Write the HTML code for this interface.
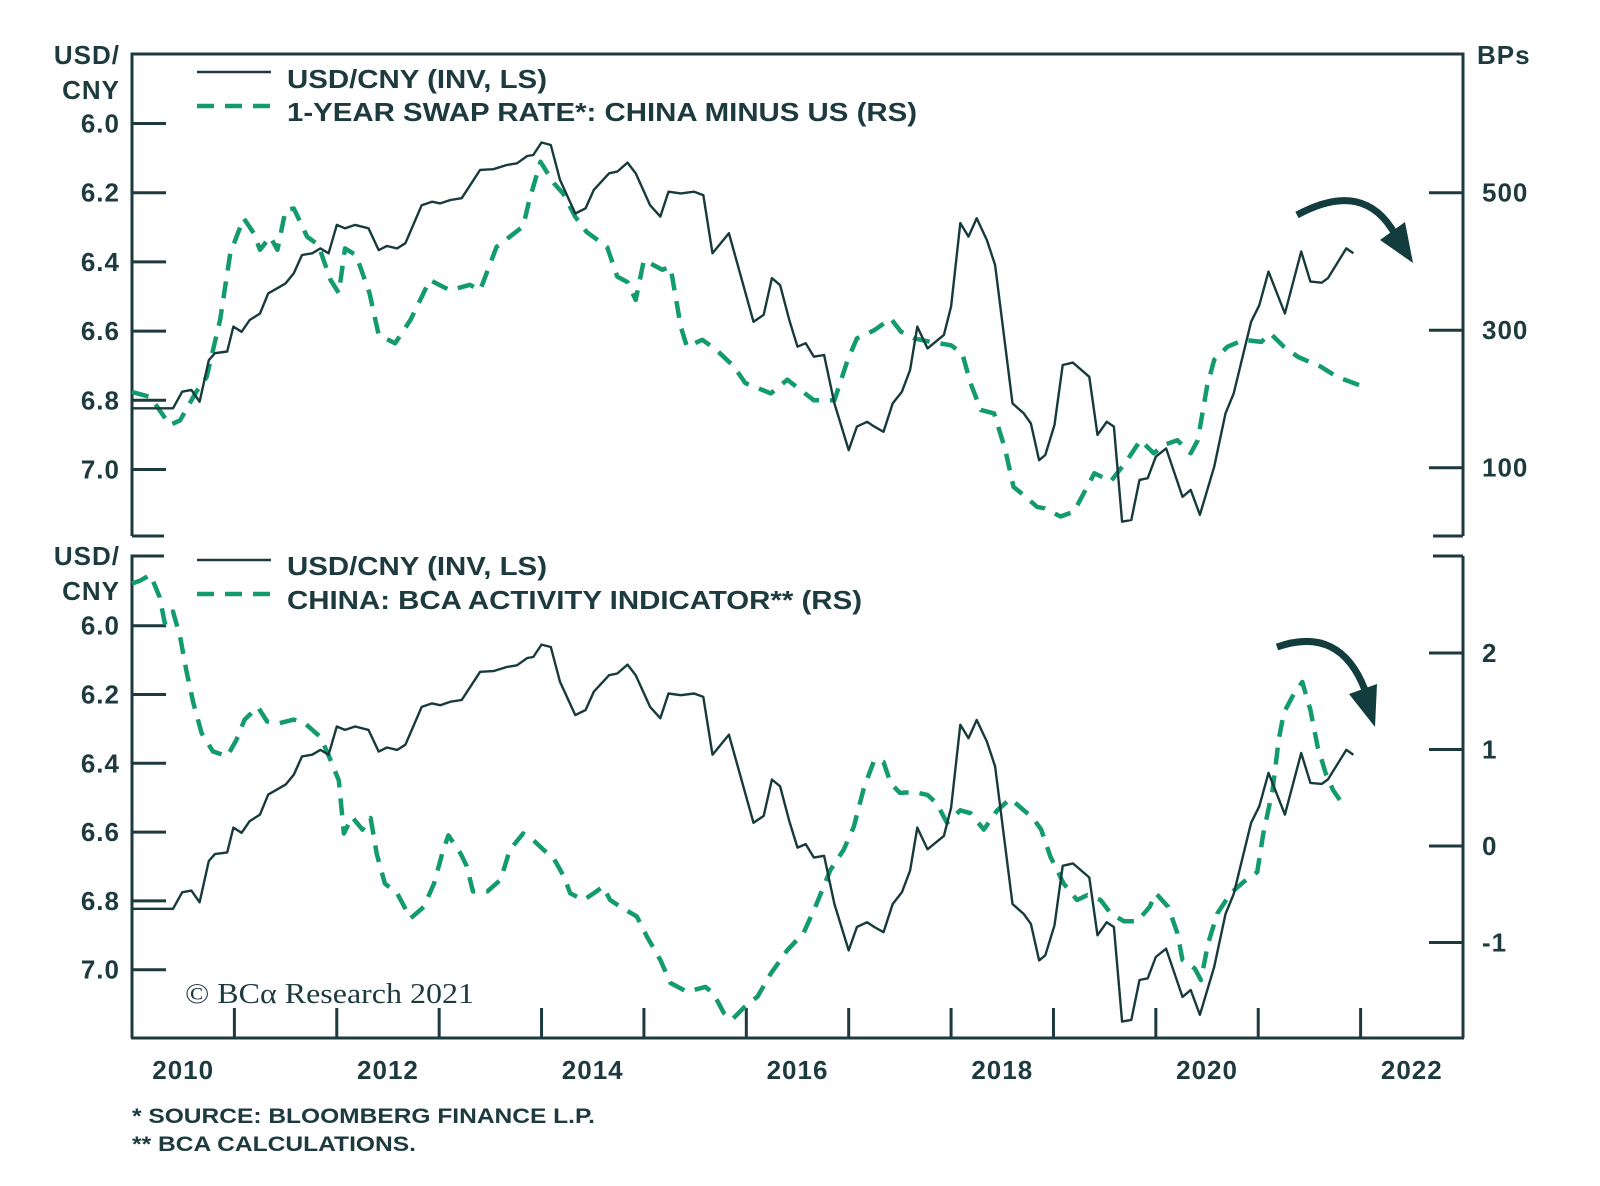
<!DOCTYPE html>
<html><head><meta charset="utf-8"><style>
html,body{margin:0;padding:0;background:#fff;}
svg{display:block;font-family:"Liberation Sans",Arial,sans-serif;}
.t{fill:#1d3a3e;font-weight:bold;font-size:26px;letter-spacing:1px;}
.lg{fill:#1d3a3e;font-weight:bold;font-size:26px;}
.fn{fill:#1d3a3e;font-weight:bold;font-size:21px;}
</style></head><body>
<svg id="chart" width="1600" height="1186" viewBox="0 0 1600 1186" xmlns="http://www.w3.org/2000/svg">
<g id="frame" stroke="#1d3a3e" stroke-width="3" fill="none"></g>
<g id="marks"></g>
<g id="texts"></g>
<g>
<line x1="197" y1="72" x2="271" y2="72" stroke="#1d3a3e" stroke-width="2.5"/>
<text class="lg" x="287" y="88" textLength="260" lengthAdjust="spacingAndGlyphs">USD/CNY (INV, LS)</text>
<line x1="197" y1="106" x2="271" y2="106" stroke="#139b6f" stroke-width="4.5" stroke-dasharray="17,11"/>
<text class="lg" x="287" y="121" textLength="630" lengthAdjust="spacingAndGlyphs">1-YEAR SWAP RATE*: CHINA MINUS US (RS)</text>
</g>
<g>
<line x1="197" y1="560" x2="271" y2="560" stroke="#1d3a3e" stroke-width="2.5"/>
<text class="lg" x="287" y="575" textLength="260" lengthAdjust="spacingAndGlyphs">USD/CNY (INV, LS)</text>
<line x1="197" y1="594" x2="271" y2="594" stroke="#139b6f" stroke-width="4.5" stroke-dasharray="17,11"/>
<text class="lg" x="287" y="609" textLength="575" lengthAdjust="spacingAndGlyphs">CHINA: BCA ACTIVITY INDICATOR** (RS)</text>
</g>
<text class="t" x="120" y="64" text-anchor="end">USD/</text>
<text class="t" x="120" y="99" text-anchor="end">CNY</text>
<text class="t" x="1477" y="64">BPs</text>
<text class="t" x="120" y="565" text-anchor="end">USD/</text>
<text class="t" x="120" y="600" text-anchor="end">CNY</text>
<text x="185" y="1003" textLength="289" lengthAdjust="spacingAndGlyphs" style="font-family:'Liberation Serif',serif;font-size:28px;fill:#1d3a3e">© BCα Research 2021</text>
<text class="fn" x="132" y="1123" textLength="463" lengthAdjust="spacingAndGlyphs">* SOURCE: BLOOMBERG FINANCE L.P.</text>
<text class="fn" x="132" y="1151" textLength="284" lengthAdjust="spacingAndGlyphs">** BCA CALCULATIONS.</text>
<g>
<path d="M1297,215 Q1365,178 1396,236" stroke="#123c3e" stroke-width="7" fill="none"/>
<polygon points="1380,240 1413,263 1405,222" fill="#123c3e"/>
</g>
<g>
<path d="M1277,647 Q1340,625 1365,690" stroke="#123c3e" stroke-width="7" fill="none"/>
<polygon points="1349,694 1375,727 1377,684" fill="#123c3e"/>
</g>
</svg>
<script>
const usdYears=[2010.0,2010.40,2010.49,2010.58,2010.66,2010.75,2010.81,2010.93,2010.99,2011.07,2011.15,2011.25,2011.33,2011.50,2011.58,2011.66,2011.76,2011.84,2011.92,2012.00,2012.08,2012.18,2012.31,2012.41,2012.49,2012.59,2012.67,2012.83,2012.93,2013.01,2013.11,2013.22,2013.40,2013.53,2013.66,2013.76,2013.86,2013.92,2014.00,2014.09,2014.18,2014.33,2014.43,2014.51,2014.66,2014.74,2014.84,2014.92,2015.06,2015.16,2015.24,2015.36,2015.49,2015.58,2015.67,2015.83,2016.07,2016.17,2016.25,2016.33,2016.42,2016.50,2016.58,2016.66,2016.76,2016.86,2017.00,2017.08,2017.18,2017.25,2017.34,2017.43,2017.52,2017.60,2017.67,2017.77,2017.93,2018.00,2018.09,2018.17,2018.25,2018.35,2018.43,2018.60,2018.71,2018.78,2018.86,2018.92,2019.01,2019.09,2019.19,2019.35,2019.43,2019.52,2019.59,2019.67,2019.76,2019.84,2019.92,2020.00,2020.10,2020.26,2020.34,2020.43,2020.57,2020.68,2020.76,2020.93,2021.01,2021.10,2021.26,2021.42,2021.51,2021.62,2021.68,2021.86,2021.93];
const usdValues=[6.823,6.823,6.775,6.770,6.804,6.684,6.664,6.659,6.587,6.602,6.568,6.549,6.491,6.462,6.433,6.380,6.375,6.361,6.375,6.293,6.303,6.293,6.303,6.366,6.354,6.361,6.346,6.236,6.226,6.231,6.221,6.216,6.134,6.132,6.120,6.115,6.094,6.091,6.055,6.062,6.163,6.260,6.245,6.192,6.144,6.139,6.113,6.144,6.236,6.269,6.197,6.202,6.197,6.207,6.375,6.317,6.573,6.553,6.447,6.467,6.568,6.645,6.635,6.674,6.669,6.809,6.944,6.876,6.862,6.876,6.891,6.809,6.775,6.712,6.587,6.650,6.611,6.529,6.288,6.327,6.274,6.337,6.409,6.809,6.838,6.867,6.973,6.958,6.871,6.698,6.691,6.732,6.900,6.862,6.876,7.151,7.146,7.030,7.025,6.963,6.939,7.079,7.059,7.131,6.992,6.838,6.780,6.573,6.525,6.428,6.549,6.370,6.457,6.460,6.447,6.361,6.375];
const swapYears=[2010.0,2010.18,2010.37,2010.47,2010.63,2010.73,2010.86,2010.96,2011.09,2011.19,2011.25,2011.35,2011.42,2011.50,2011.58,2011.71,2011.82,2011.94,2012.02,2012.08,2012.19,2012.32,2012.41,2012.57,2012.72,2012.91,2013.04,2013.11,2013.30,2013.40,2013.56,2013.82,2013.88,2013.99,2014.12,2014.21,2014.33,2014.44,2014.64,2014.74,2014.84,2014.92,2015.00,2015.18,2015.26,2015.36,2015.42,2015.57,2015.71,2015.88,2015.99,2016.24,2016.40,2016.53,2016.66,2016.86,2016.99,2017.08,2017.25,2017.41,2017.51,2017.64,2017.80,2018.00,2018.11,2018.19,2018.29,2018.42,2018.53,2018.61,2018.71,2018.84,2018.91,2019.07,2019.20,2019.40,2019.56,2019.72,2019.85,2019.98,2020.08,2020.21,2020.34,2020.41,2020.50,2020.57,2020.70,2020.86,2021.03,2021.12,2021.25,2021.39,2021.61,2021.77,2021.99];
const swapValues=[210,203,162,169,211,232,315,412,463,441,417,436,417,475,477,436,424,373,354,419,409,354,293,281,315,373,363,358,366,358,421,451,489,545,514,499,465,443,421,378,370,344,402,388,392,305,276,286,271,247,223,208,228,213,198,198,257,288,300,317,298,288,283,278,266,223,184,179,126,72,60,43,41,29,36,92,80,111,140,121,133,140,121,140,218,257,276,286,283,295,276,261,247,232,220];
const actYears=[2010.0,2010.08,2010.18,2010.27,2010.32,2010.40,2010.47,2010.53,2010.60,2010.68,2010.79,2010.93,2011.02,2011.10,2011.23,2011.32,2011.43,2011.58,2011.69,2011.84,2011.94,2012.02,2012.07,2012.15,2012.25,2012.33,2012.39,2012.47,2012.59,2012.72,2012.85,2012.95,2013.04,2013.09,2013.21,2013.27,2013.33,2013.47,2013.60,2013.69,2013.82,2013.92,2014.02,2014.12,2014.22,2014.28,2014.41,2014.51,2014.60,2014.67,2014.80,2014.93,2015.03,2015.16,2015.26,2015.42,2015.60,2015.68,2015.78,2015.86,2015.98,2016.11,2016.24,2016.40,2016.56,2016.69,2016.82,2016.95,2017.05,2017.15,2017.25,2017.34,2017.41,2017.50,2017.64,2017.77,2017.86,2017.96,2018.09,2018.19,2018.32,2018.45,2018.58,2018.71,2018.80,2018.88,2018.97,2019.10,2019.23,2019.33,2019.46,2019.56,2019.69,2019.82,2019.94,2020.00,2020.12,2020.21,2020.26,2020.38,2020.44,2020.51,2020.60,2020.73,2020.86,2020.99,2021.05,2021.14,2021.20,2021.25,2021.35,2021.43,2021.51,2021.58,2021.66,2021.73,2021.84];
const actValues=[2.72,2.75,2.81,2.58,2.31,2.43,2.17,1.82,1.48,1.17,0.98,0.93,1.10,1.31,1.44,1.29,1.27,1.31,1.27,1.13,0.89,0.68,0.13,0.30,0.17,0.29,-0.08,-0.39,-0.49,-0.75,-0.63,-0.39,-0.04,0.11,-0.08,-0.21,-0.47,-0.47,-0.35,-0.04,0.13,0.06,-0.04,-0.13,-0.32,-0.49,-0.56,-0.49,-0.42,-0.56,-0.65,-0.73,-0.94,-1.18,-1.42,-1.51,-1.46,-1.53,-1.73,-1.80,-1.67,-1.56,-1.32,-1.08,-0.90,-0.59,-0.25,-0.04,0.20,0.61,0.89,0.87,0.65,0.55,0.56,0.53,0.44,0.24,0.37,0.34,0.17,0.37,0.49,0.37,0.29,0.17,-0.11,-0.39,-0.56,-0.51,-0.56,-0.70,-0.78,-0.78,-0.63,-0.49,-0.63,-0.90,-1.18,-1.27,-1.39,-1.01,-0.70,-0.49,-0.37,-0.27,0.13,0.58,1.10,1.38,1.58,1.70,1.41,1.03,0.75,0.58,0.41];
const usdTicks=["6.0","6.2","6.4","6.6","6.8","7.0"];
const swapTicks=[100,300,500];
const actTicks=[-1,0,1,2];
const xLabels=[2010,2012,2014,2016,2018,2020,2022];

const NS="http://www.w3.org/2000/svg";
const L=132,R=1463,TT=54,TB=536,BT=556,BB=1038;
function xs(yr){return L+(yr-2010)*(R-L)/13;}
function yUsdTop(v){return 123.5+(v-6.0)*346;}
function yUsdBot(v){return 625.7+(v-6.0)*344;}
function ySwap(v){return 467.7-(v-100)*0.6875;}
function yAct(v){return 846-v*96.5;}
function mk(tag,attrs,parent){const e=document.createElementNS(NS,tag);for(const k in attrs)e.setAttribute(k,attrs[k]);parent.appendChild(e);return e;}
const frame=document.getElementById('frame'),marks=document.getElementById('marks'),texts=document.getElementById('texts');
let p=mk('path',{d:`M${L},${TB} L${L},${TT} L${R},${TT} L${R},${TB} M${L},${TB} h32 M${R},${TB} h-30 M${L},${BB} L${L},${BT} h32 M${R},${BT} h-30 M${R},${BT} L${R},${BB} M${L-1},${BB} L${R+1},${BB}`},frame);


function tickL(y,lab,name){
  const t=mk('line',{x1:L,x2:L+34,y1:y,y2:y,stroke:'#1d3a3e','stroke-width':3},frame);
  
  
  const tx=mk('text',{x:120,y:y+9,'text-anchor':'end',class:'t'},texts);tx.textContent=lab;
  
  
}
function tickR(y,lab,name){
  const t=mk('line',{x1:R-34,x2:R,y1:y,y2:y,stroke:'#1d3a3e','stroke-width':3},frame);
  
  
  const tx=mk('text',{x:R+19,y:y+9,class:'t'},texts);tx.textContent=lab;
  
  
}
usdTicks.forEach(t=>{tickL(yUsdTop(+t),t,'left-axis-top');tickL(yUsdBot(+t),t,'left-axis-bottom');});
swapTicks.forEach(t=>tickR(ySwap(t),String(t),'right-axis-top'));
actTicks.forEach(t=>tickR(yAct(t),String(t),'right-axis-bottom'));
for(let yr=2011;yr<=2022;yr++){
  const t=mk('line',{x1:xs(yr),x2:xs(yr),y1:BB,y2:BB-30,stroke:'#1d3a3e','stroke-width':3},frame);
  
  
}
xLabels.forEach(yr=>{
  const tx=mk('text',{x:xs(yr+0.5),y:1079,'text-anchor':'middle',class:'t'},texts);tx.textContent=String(yr);
  
  
});
function line(xsArr,ysArr,yf,dashed,name){
  const d=xsArr.map((x,i)=>(i?'L':'M')+xs(x).toFixed(1)+','+yf(ysArr[i]).toFixed(1)).join(' ');
  const a=dashed?{d:d,fill:'none',stroke:'#139b6f','stroke-width':4.5,'stroke-dasharray':'17,11','stroke-linejoin':'round'}:{d:d,fill:'none',stroke:'#173a3c','stroke-width':2.4,'stroke-linejoin':'round'};
  const e=mk('path',a,marks);
  
  
}
line(swapYears,swapValues,ySwap,true,'swap-rate-line');
line(usdYears,usdValues,yUsdTop,false,'usdcny-line-top');
line(actYears,actValues,yAct,true,'activity-indicator-line');
line(usdYears,usdValues,yUsdBot,false,'usdcny-line-bottom');
</script>
</body></html>
